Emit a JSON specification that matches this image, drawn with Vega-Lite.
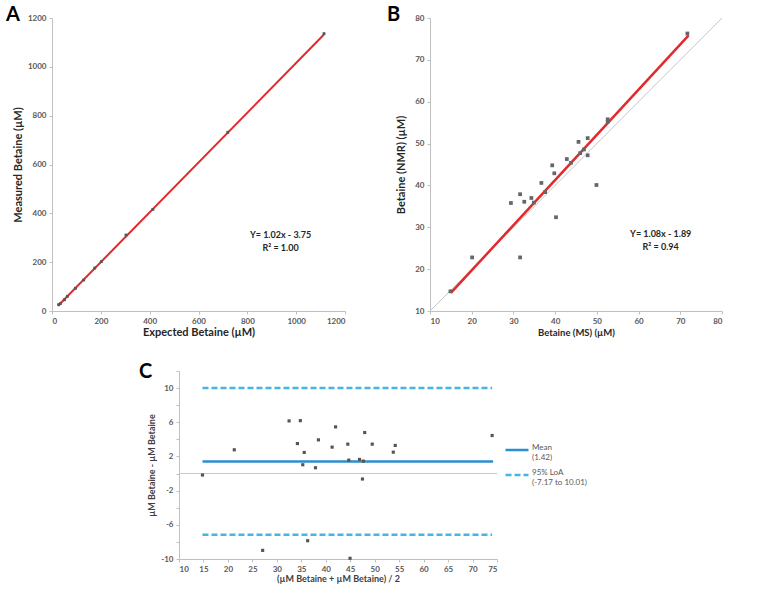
{
  "$schema": "https://vega.github.io/schema/vega-lite/v6.json",
  "padding": {"left": 6, "top": 5, "right": 5, "bottom": 5},
  "background": "white",
  "resolve": {"legend": {"color": "independent", "strokeDash": "independent"}},
  "config": {
    "view": {"stroke": null},
    "font": "Lato",
    "axis": {"grid": false, "domainColor": "#c0c0c0", "tickColor": "#c0c0c0", "tickSize": 3, "labelFont": "Lato", "labelFontWeight": "bold", "labelFontSize": 8, "labelColor": "#595959", "titleFont": "Lato", "titleFontWeight": "bold", "titleColor": "#262626", "labelPadding": 3, "format": "d", "labelOverlap": false},
    "title": {"font": "Lato"},
    "text": {"font": "Lato"}
  },
  "datasets": {
    "ptsA": [{"x":27,"y":26},{"x":34,"y":30},{"x":51,"y":46},{"x":63,"y":60},{"x":96,"y":93},{"x":130,"y":127},{"x":175,"y":176},{"x":202,"y":202},{"x":303,"y":311},{"x":413,"y":416},{"x":720,"y":732},{"x":1114,"y":1136}],
    "fitA": [{"x":25,"y":21.75},{"x":1113,"y":1131.5}],
    "labA": [{"x":936,"y":312,"t":"Y= 1.02x - 3.75"},{"x":936,"y":258,"t":"R² = 1.00"}],
    "ptsB": [{"x":14.9,"y":14.7},{"x":20.1,"y":22.8},{"x":29.4,"y":35.8},{"x":31.6,"y":37.9},{"x":31.6,"y":22.8},{"x":32.6,"y":36.1},{"x":34.3,"y":37.0},{"x":34.9,"y":35.9},{"x":36.7,"y":40.6},{"x":37.6,"y":38.4},{"x":39.3,"y":44.8},{"x":39.8,"y":42.9},{"x":40.2,"y":32.4},{"x":42.8,"y":46.3},{"x":43.8,"y":45.4},{"x":45.6,"y":50.4},{"x":46.0,"y":47.7},{"x":46.9,"y":48.6},{"x":47.8,"y":51.3},{"x":47.8,"y":47.2},{"x":49.9,"y":40.1},{"x":52.6,"y":55.8},{"x":52.6,"y":55.2},{"x":71.7,"y":76.3}],
    "fitB": [{"x":15,"y":14.31},{"x":72,"y":75.87}],
    "idB": [{"x":10,"y":10},{"x":80,"y":80}],
    "labB": [{"x":65.3,"y":28.4,"t":"Y= 1.08x - 1.89"},{"x":65.3,"y":25.2,"t":"R² = 0.94"}],
    "ptsC": [{"x":14.8,"y":-0.17},{"x":21.3,"y":2.78},{"x":27.1,"y":-8.99},{"x":32.5,"y":6.16},{"x":34.2,"y":3.51},{"x":34.8,"y":6.19},{"x":35.3,"y":1.03},{"x":35.6,"y":2.47},{"x":36.3,"y":-7.86},{"x":37.9,"y":0.68},{"x":38.5,"y":3.94},{"x":41.3,"y":3.09},{"x":42.0,"y":5.46},{"x":44.5,"y":3.44},{"x":44.7,"y":1.57},{"x":44.96,"y":-9.92},{"x":46.9,"y":1.65},{"x":47.5,"y":-0.64},{"x":47.7,"y":1.46},{"x":47.96,"y":4.8},{"x":49.5,"y":3.44},{"x":53.8,"y":2.5},{"x":54.2,"y":3.29},{"x":74.0,"y":4.45}],
    "zeroC": [{"y":0,"x":10,"x2":75}],
    "linesC": [{"series":"Mean|(1.42)","y":1.42,"x":14.8,"x2":74.2},{"series":"95% LoA|(-7.17 to 10.01)","y":10.01,"x":14.8,"x2":74.0},{"series":"95% LoA|(-7.17 to 10.01)","y":-7.17,"x":14.8,"x2":74.0}]
  },
  "spacing": 25,
  "center": true,
  "vconcat": [
    {
      "spacing": 41,
      "hconcat": [
        {
          "width": 293, "height": 293,
          "title": {"text": "A", "anchor": "start", "frame": "group", "fontSize": 20, "fontWeight": "bold", "color": "#000000", "dx": -46, "offset": -11},
          "layer": [
            {"data": {"name": "fitA"}, "mark": {"type": "line", "color": "#e2292b", "strokeWidth": 2},
             "encoding": {
               "x": {"field": "x", "type": "quantitative", "scale": {"domain": [0, 1200], "nice": false}, "axis": {"values": [0,200,400,600,800,1000,1200], "title": "Expected Betaine (µM)", "titleFontSize": 11, "titlePadding": 1}},
               "y": {"field": "y", "type": "quantitative", "scale": {"domain": [0, 1200], "nice": false}, "axis": {"values": [0,200,400,600,800,1000,1200], "title": "Measured Betaine (µM)", "titleFontSize": 11, "titlePadding": 4}}
             }},
            {"data": {"name": "ptsA"}, "mark": {"type": "square", "size": 8, "color": "#555555", "opacity": 1},
             "encoding": {"x": {"field": "x", "type": "quantitative"}, "y": {"field": "y", "type": "quantitative"}}},
            {"data": {"name": "labA"}, "mark": {"type": "text", "fontSize": 9, "fontWeight": "bold", "color": "#262626"},
             "encoding": {"x": {"field": "x", "type": "quantitative"}, "y": {"field": "y", "type": "quantitative"}, "text": {"field": "t"}}}
          ]
        },
        {
          "width": 292, "height": 293,
          "title": {"text": "B", "anchor": "start", "frame": "group", "fontSize": 20, "fontWeight": "bold", "color": "#000000", "dx": -43, "offset": -11},
          "layer": [
            {"data": {"name": "idB"}, "mark": {"type": "line", "color": "#c8c8c8", "strokeWidth": 1},
             "encoding": {
               "x": {"field": "x", "type": "quantitative", "scale": {"domain": [10, 80], "nice": false}, "axis": {"values": [10,20,30,40,50,60,70,80], "title": "Betaine (MS) (µM)", "titleFontSize": 9.5, "titlePadding": 2}},
               "y": {"field": "y", "type": "quantitative", "scale": {"domain": [10, 80], "nice": false}, "axis": {"values": [10,20,30,40,50,60,70,80], "title": "Betaine (NMR) (µM)", "titleFontSize": 11, "titlePadding": 8}}
             }},
            {"data": {"name": "fitB"}, "mark": {"type": "line", "color": "#e2292b", "strokeWidth": 2.5},
             "encoding": {"x": {"field": "x", "type": "quantitative"}, "y": {"field": "y", "type": "quantitative"}}},
            {"data": {"name": "ptsB"}, "mark": {"type": "square", "size": 14, "color": "#666666", "opacity": 1},
             "encoding": {"x": {"field": "x", "type": "quantitative"}, "y": {"field": "y", "type": "quantitative"}}},
            {"data": {"name": "labB"}, "mark": {"type": "text", "fontSize": 9, "fontWeight": "bold", "color": "#262626"},
             "encoding": {"x": {"field": "x", "type": "quantitative"}, "y": {"field": "y", "type": "quantitative"}, "text": {"field": "t"}}}
          ]
        }
      ]
    },
    {
      "width": 318, "height": 188,
      "title": {"text": "C", "anchor": "start", "frame": "group", "fontSize": 20, "fontWeight": "bold", "color": "#000000", "dx": -40, "offset": -15},
      "encoding": {
        "x": {"field": "x", "type": "quantitative", "scale": {"domain": [10, 75], "nice": false}, "axis": {"values": [10,15,20,25,30,35,40,45,50,55,60,65,70,75], "labelOverlap": false, "title": "(µM Betaine + µM Betaine) / 2", "titleFontSize": 9, "titleColor": "#404040", "titlePadding": 1}},
        "y": {"field": "y", "type": "quantitative", "scale": {"domain": [-10, 12], "nice": false}, "axis": {"values": [-10,-8,-6,-4,-2,0,2,4,6,8,10,12], "labelOverlap": false, "labelExpr": "(datum.value + 10) % 4 == 0 && datum.value <= 10 ? '' + datum.value : ''", "title": "µM Betaine - µM Betaine", "titleFontSize": 9, "titleColor": "#404040", "titlePadding": 4}}
      },
      "layer": [
        {"data": {"name": "zeroC"}, "mark": {"type": "rule", "color": "#c8c8c8", "strokeWidth": 1},
         "encoding": {"x2": {"field": "x2"}}},
        {"data": {"name": "linesC"}, "mark": {"type": "rule", "strokeWidth": 2.5},
         "encoding": {
           "x2": {"field": "x2"},
           "color": {"field": "series", "type": "nominal", "scale": {"domain": ["Mean|(1.42)", "95% LoA|(-7.17 to 10.01)"], "range": ["#2a8fd0", "#45b5e6"]},
             "legend": {"title": null, "orient": "none", "legendX": 315, "legendY": 56, "padding": 10, "symbolType": "stroke", "symbolSize": 529, "symbolStrokeWidth": 2.5, "labelExpr": "split(datum.label, '|')", "labelFont": "Lato", "labelFontSize": 8, "labelColor": "#595959", "labelBaseline": "alphabetic", "labelOffset": 2, "rowPadding": 0}},
           "strokeDash": {"field": "series", "type": "nominal", "scale": {"domain": ["Mean|(1.42)", "95% LoA|(-7.17 to 10.01)"], "range": [[1, 0], [6, 3]]},
             "legend": {"title": null, "orient": "none", "legendX": 315, "legendY": 56, "padding": 10, "symbolType": "stroke", "symbolSize": 529, "symbolStrokeWidth": 2.5, "labelExpr": "split(datum.label, '|')", "labelFont": "Lato", "labelFontSize": 8, "labelColor": "#595959", "labelBaseline": "alphabetic", "labelOffset": 2, "rowPadding": 0}}
         }},
        {"data": {"name": "ptsC"}, "mark": {"type": "square", "size": 10, "color": "#555555", "opacity": 1}}
      ]
    }
  ]
}
